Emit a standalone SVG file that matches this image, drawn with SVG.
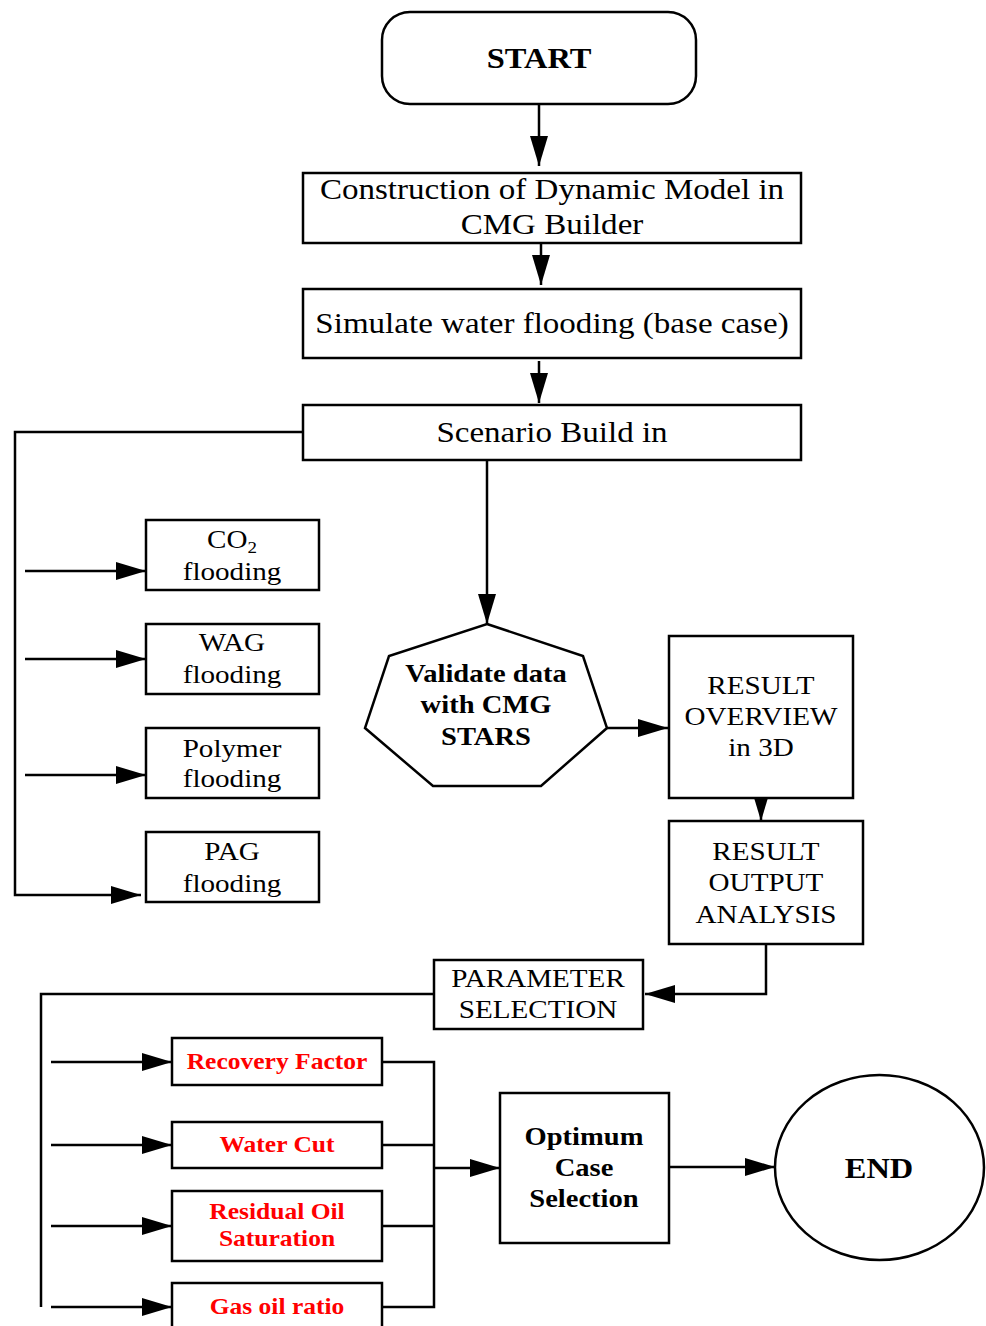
<svg xmlns="http://www.w3.org/2000/svg" width="986" height="1326" viewBox="0 0 986 1326">
<style>
.shape{fill:#fff;stroke:#000;stroke-width:2.5}
.ln{fill:none;stroke:#000;stroke-width:2.5}
.t{font-family:"Liberation Serif","Times New Roman",serif;fill:#000;text-anchor:middle}
.big{font-size:29.5px}
.sm{font-size:26px}
.b{font-weight:bold;font-size:25.5px}
.red{font-weight:bold;font-size:22.8px;fill:#ff0000}
.term{font-weight:bold;font-size:29px}
</style>
<defs>
<marker id="ah" markerUnits="userSpaceOnUse" markerWidth="32" markerHeight="22" refX="30" refY="11" orient="auto" viewBox="0 0 32 22">
<path d="M0,2 L30,11 L0,20 z" fill="#000"/>
</marker>
</defs>
<rect width="986" height="1326" fill="#fff"/>

<g id="connectors">
<path class="ln" d="M539,104 V166" marker-end="url(#ah)"/>
<path class="ln" d="M541,243 V285" marker-end="url(#ah)"/>
<path class="ln" d="M539,361 V403" marker-end="url(#ah)"/>
<path class="ln" d="M303,432 H15 V895 H141" marker-end="url(#ah)"/>
<path class="ln" d="M25,571 H146" marker-end="url(#ah)"/>
<path class="ln" d="M25,659 H146" marker-end="url(#ah)"/>
<path class="ln" d="M25,775 H146" marker-end="url(#ah)"/>
<path class="ln" d="M487,460 V624" marker-end="url(#ah)"/>
<path class="ln" d="M607,728 H668" marker-end="url(#ah)"/>
<path class="ln" d="M761,798 V821" marker-end="url(#ah)"/>
<path class="ln" d="M766,944 V994 H645" marker-end="url(#ah)"/>
<path class="ln" d="M434,994 H41 V1307"/>
<path class="ln" d="M51,1062 H172" marker-end="url(#ah)"/>
<path class="ln" d="M51,1145 H172" marker-end="url(#ah)"/>
<path class="ln" d="M51,1226 H172" marker-end="url(#ah)"/>
<path class="ln" d="M51,1307 H172" marker-end="url(#ah)"/>
<path class="ln" d="M382,1062 H434 V1307 H382"/>
<path class="ln" d="M382,1145 H434"/>
<path class="ln" d="M382,1226 H434"/>
<path class="ln" d="M434,1168 H500" marker-end="url(#ah)"/>
<path class="ln" d="M669,1167 H775" marker-end="url(#ah)"/>
</g>

<g id="start">
<rect class="shape" x="382" y="12" width="314" height="92" rx="28"/>
<g transform="translate(539 0) scale(1.12 1)"><text class="t term" x="0" y="68">START</text></g>
</g>

<g id="construction">
<rect class="shape" x="303" y="173" width="498" height="70"/>
<g transform="translate(552 0) scale(1.12 1)"><text class="t big" x="0" y="199">Construction of Dynamic Model in</text><text class="t big" x="0" y="234">CMG Builder</text></g>
</g>

<g id="simulate">
<rect class="shape" x="303" y="289" width="498" height="69"/>
<g transform="translate(552 0) scale(1.12 1)"><text class="t big" x="0" y="333">Simulate water flooding (base case)</text></g>
</g>

<g id="scenario">
<rect class="shape" x="303" y="405" width="498" height="55"/>
<g transform="translate(552 0) scale(1.12 1)"><text class="t big" x="0" y="442">Scenario Build in</text></g>
</g>

<g id="co2">
<rect class="shape" x="146" y="520" width="173" height="70"/>
<g transform="translate(232 0) scale(1.12 1)"><text class="t sm" x="0" y="548">CO<tspan font-size="17" dy="5">2</tspan></text><text class="t sm" x="0" y="580">flooding</text></g>
</g>

<g id="wag">
<rect class="shape" x="146" y="624" width="173" height="70"/>
<g transform="translate(232 0) scale(1.12 1)"><text class="t sm" x="0" y="651">WAG</text><text class="t sm" x="0" y="683">flooding</text></g>
</g>

<g id="polymer">
<rect class="shape" x="146" y="728" width="173" height="70"/>
<g transform="translate(232 0) scale(1.12 1)"><text class="t sm" x="0" y="757">Polymer</text><text class="t sm" x="0" y="787">flooding</text></g>
</g>

<g id="pag">
<rect class="shape" x="146" y="832" width="173" height="70"/>
<g transform="translate(232 0) scale(1.12 1)"><text class="t sm" x="0" y="860">PAG</text><text class="t sm" x="0" y="892">flooding</text></g>
</g>

<g id="validate">
<polygon class="shape" points="487,624 583,656 607,728 541,786 433,786 365,728 389,656"/>
<g transform="translate(486 0) scale(1.12 1)"><text class="t b" x="0" y="682">Validate data</text><text class="t b" x="0" y="713">with CMG</text><text class="t b" x="0" y="745">STARS</text></g>
</g>

<g id="overview">
<rect class="shape" x="669" y="636" width="184" height="162"/>
<g transform="translate(761 0) scale(1.12 1)"><text class="t sm" x="0" y="694">RESULT</text><text class="t sm" x="0" y="725">OVERVIEW</text><text class="t sm" x="0" y="756">in 3D</text></g>
</g>

<g id="output">
<rect class="shape" x="669" y="821" width="194" height="123"/>
<g transform="translate(766 0) scale(1.12 1)"><text class="t sm" x="0" y="860">RESULT</text><text class="t sm" x="0" y="891">OUTPUT</text><text class="t sm" x="0" y="923">ANALYSIS</text></g>
</g>

<g id="parameter">
<rect class="shape" x="434" y="960" width="209" height="69"/>
<g transform="translate(538 0) scale(1.12 1)"><text class="t sm" x="0" y="987">PARAMETER</text><text class="t sm" x="0" y="1018">SELECTION</text></g>
</g>

<g id="recovery">
<rect class="shape" x="172" y="1038" width="210" height="47"/>
<g transform="translate(277 0) scale(1.12 1)"><text class="t red" x="0" y="1069">Recovery Factor</text></g>
</g>

<g id="watercut">
<rect class="shape" x="172" y="1122" width="210" height="46"/>
<g transform="translate(277 0) scale(1.12 1)"><text class="t red" x="0" y="1152">Water Cut</text></g>
</g>

<g id="residual">
<rect class="shape" x="172" y="1191" width="210" height="70"/>
<g transform="translate(277 0) scale(1.12 1)"><text class="t red" x="0" y="1219">Residual Oil</text><text class="t red" x="0" y="1246">Saturation</text></g>
</g>

<g id="gasoil">
<rect class="shape" x="172" y="1283" width="210" height="60"/>
<g transform="translate(277 0) scale(1.12 1)"><text class="t red" x="0" y="1314">Gas oil ratio</text></g>
</g>

<g id="optimum">
<rect class="shape" x="500" y="1093" width="169" height="150"/>
<g transform="translate(584 0) scale(1.12 1)"><text class="t b" x="0" y="1145">Optimum</text><text class="t b" x="0" y="1176">Case</text><text class="t b" x="0" y="1207">Selection</text></g>
</g>

<g id="end">
<ellipse class="shape" cx="879.5" cy="1167.5" rx="104.5" ry="92.5"/>
<g transform="translate(879 0) scale(1.12 1)"><text class="t term" x="0" y="1178">END</text></g>
</g>
</svg>
